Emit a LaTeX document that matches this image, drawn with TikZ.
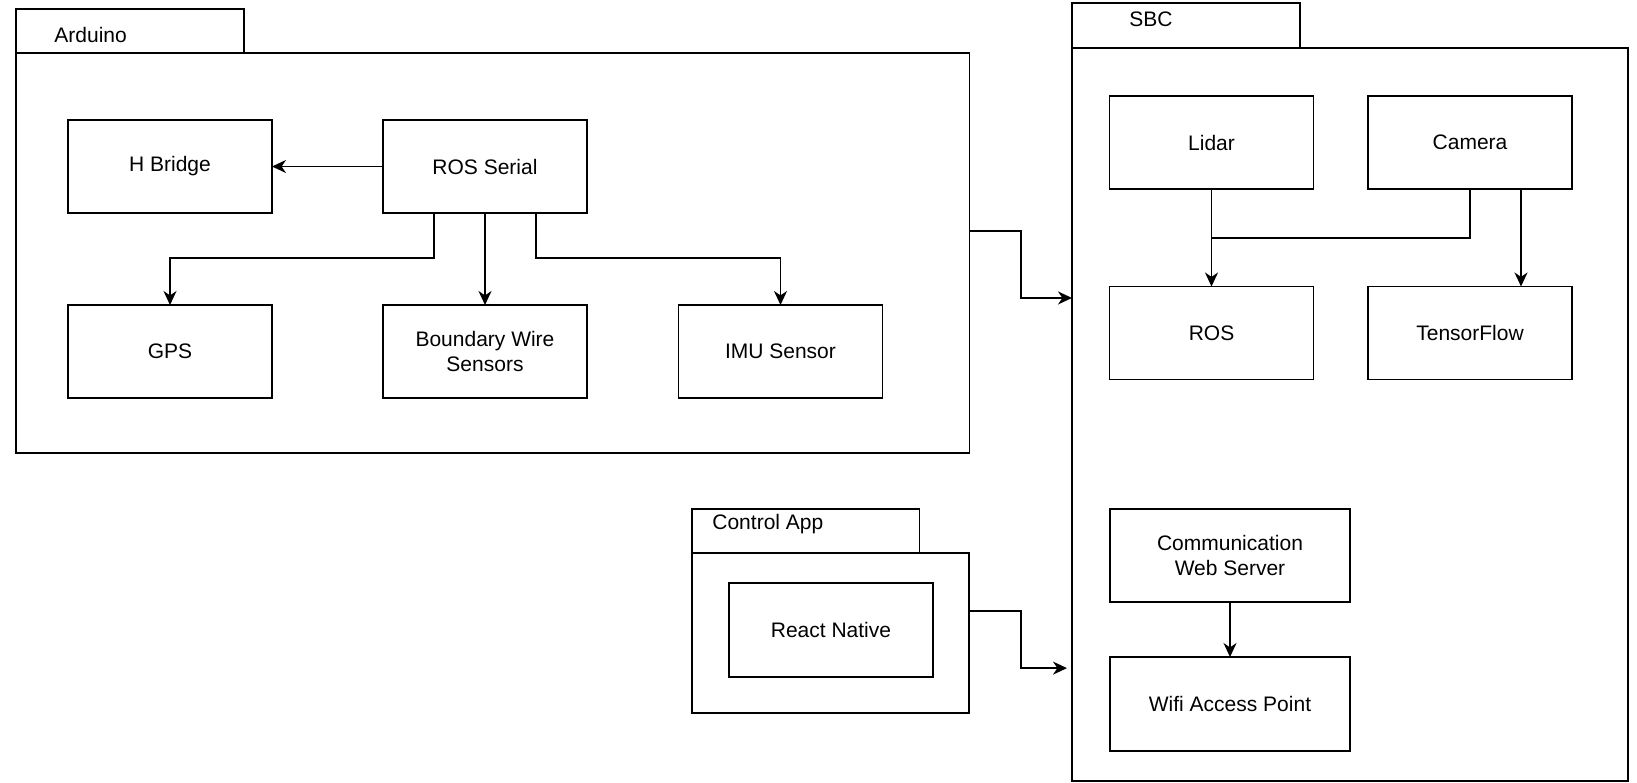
\documentclass[tikz,border=0pt]{standalone}
\usepackage{fontspec}
\setmainfont{Liberation Sans}
\usetikzlibrary{arrows.meta,calc}
\begin{document}
\begin{tikzpicture}[x=0.5pt,y=-0.5pt,
  every node/.style={font=\fontsize{10.5pt}{12.5pt}\selectfont},
  frame/.style={draw=black,line width=0.9pt,inner sep=0pt,outer sep=0pt,rectangle},
  box/.style={frame,minimum width=102pt,minimum height=46.5pt,align=center},
  widebox/.style={box,minimum width=120pt},
  tablabel/.style={anchor=west,inner sep=0pt},
  conn/.style={draw=black,line width=0.9pt,-{Stealth[length=7pt,width=6.5pt,inset=2.2pt]}},
  line/.style={draw=black,line width=0.9pt}
]
\useasboundingbox (0,0) rectangle (1637,782);

% containers
\node[frame,minimum width=114pt,minimum height=22pt,anchor=north west] (ardtab) at (16,9) {};
\node[frame,minimum width=476.75pt,minimum height=200pt,anchor=north west] (ardmain) at (16,53) {};
\node[tablabel] (ardlbl) at (54,35) {Arduino};

\node[frame,minimum width=114pt,minimum height=22.5pt,anchor=north west] (sbctab) at (1072,3) {};
\node[frame,minimum width=278pt,minimum height=366.5pt,anchor=north west] (sbcmain) at (1072,48) {};
\node[tablabel] (sbclbl) at (1129,19.5) {SBC};

\node[frame,minimum width=113.75pt,minimum height=22pt,anchor=north west] (ctab) at (692,509) {};
\node[frame,minimum width=138.5pt,minimum height=80pt,anchor=north west] (cmain) at (692,553) {};
\node[tablabel] (clbl) at (712,524) {Control App};

% Arduino nodes
\node[box] (hb) at (170,166.5) {H Bridge};
\node[box] (rs) at (485,166.5) {ROS Serial};
\node[box] (gps) at (170,351.5) {GPS};
\node[box] (bws) at (485,351.5) {Boundary Wire\\Sensors};
\node[box] (imu) at (780.5,351.5) {IMU Sensor};

% SBC nodes
\node[box] (lidar) at (1211.5,142.5) {Lidar};
\node[box] (cam) at (1470,142.5) {Camera};
\node[box] (ros) at (1211.5,333) {ROS};
\node[box] (tf) at (1470,333) {TensorFlow};
\node[widebox] (comm) at (1230,555.5) {Communication\\Web Server};
\node[widebox,minimum height=47pt] (wifi) at (1230,704) {Wifi Access Point};

% Control App node
\node[box,minimum height=47pt] (rn) at (831,630) {React Native};

% Arduino connectors
\coordinate (rsL) at ($(rs.south west)!0.25!(rs.south east)$);
\coordinate (rsR) at ($(rs.south west)!0.75!(rs.south east)$);
\draw[conn] (rs.west) -- (hb.east);
\draw[conn] (rsL) |- ($(gps.north)+(0,-47)$) -- (gps.north);
\draw[conn] (rs.south) -- (bws.north);
\draw[conn] (rsR) |- ($(imu.north)+(0,-47)$) -- (imu.north);

% SBC connectors
\draw[line] (cam.south) |- ($(lidar.south)+(0,49)$);
\draw[conn] (lidar.south) -- (ros.north);
\draw[conn] ($(cam.south west)!0.75!(cam.south east)$) -- ($(tf.north west)!0.75!(tf.north east)$);
\draw[conn] (comm.south) -- (wifi.north);

% inter-container connectors
\coordinate (ardout) at ($(ardmain.north east)!0.445!(ardmain.south east)$);
\coordinate (sbcin1) at ($(sbcmain.north west)!0.341!(sbcmain.south west)$);
\coordinate (cout) at ($(cmain.north east)!0.3625!(cmain.south east)$);
\coordinate (sbcin2) at ($(sbcmain.north west)!0.846!(sbcmain.south west)$);
\draw[conn] (ardout) -- ($(ardout)+(51.5,0)$) |- (sbcin1);
\draw[conn,shorten >=2.5pt] (cout) -- ($(cout)+(52,0)$) |- (sbcin2);
\end{tikzpicture}
\end{document}
